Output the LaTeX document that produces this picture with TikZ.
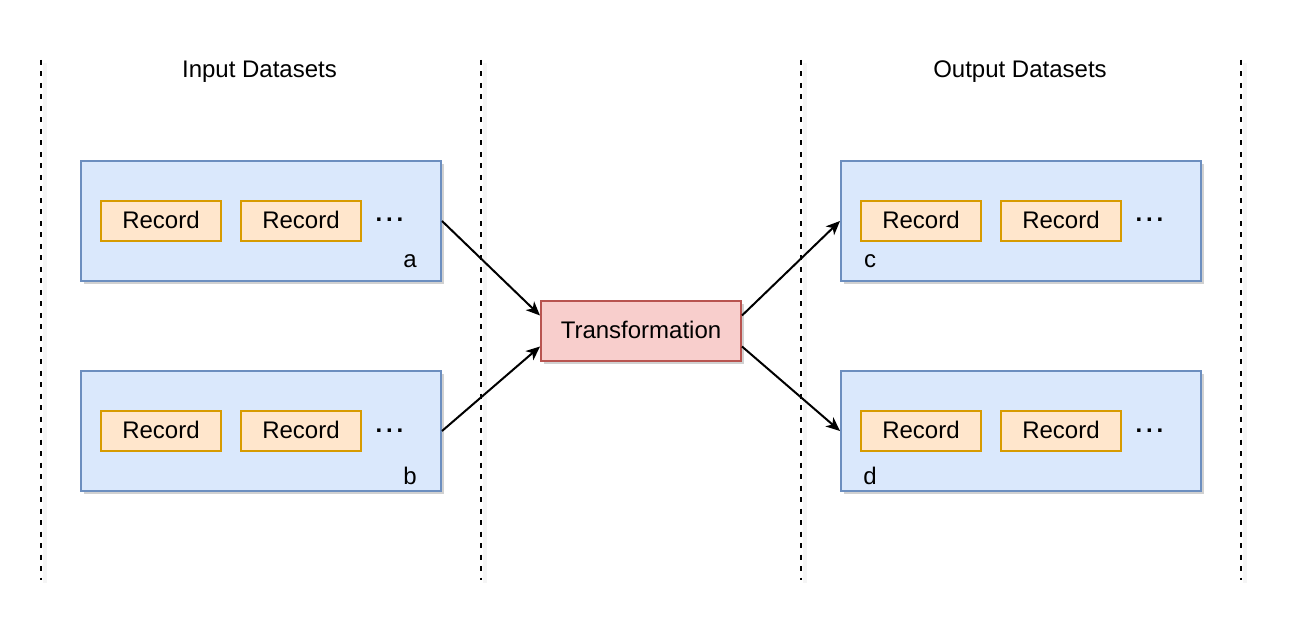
\documentclass[tikz,border=0pt]{standalone}
\usepackage{fontspec}
\setmainfont{Liberation Sans}
\usetikzlibrary{arrows.meta,shadows,calc}
\definecolor{dsfill}{HTML}{DAE8FC}
\definecolor{dsdraw}{HTML}{6C8EBF}
\definecolor{recfill}{HTML}{FFE6CC}
\definecolor{recdraw}{HTML}{D79B00}
\definecolor{trfill}{HTML}{F8CECC}
\definecolor{trdraw}{HTML}{B85450}
\tikzset{
  shad/.style={drop shadow={shadow xshift=3pt,shadow yshift=-3pt,fill=black,opacity=0.18}},
  dataset/.style={rectangle,draw=dsdraw,fill=dsfill,line width=2pt,minimum width=360pt,minimum height=120pt,inner sep=0pt,shad},
  record/.style={rectangle,draw=recdraw,fill=recfill,line width=2pt,minimum width=120pt,minimum height=40pt,inner sep=0pt,font=\fontsize{24}{28}\selectfont},
  transf/.style={rectangle,draw=trdraw,fill=trfill,line width=2pt,minimum width=200pt,minimum height=60pt,inner sep=0pt,font=\fontsize{24}{28}\selectfont,shad},
  lbl/.style={inner sep=0pt,font=\fontsize{24}{28}\selectfont},
  dots/.style={inner sep=0pt,anchor=base,font=\fontsize{24}{28}\selectfont\bfseries},
  sep/.style={line width=2.2pt,dash pattern=on 5pt off 6.5pt},
  sepshadow/.style={line width=4pt,black,opacity=0.04},
  conn/.style={line width=2pt,-{Stealth[length=14pt,width=12pt,inset=4pt]}}
}
\newcommand{\rtext}[1]{\raisebox{2.5pt}{#1}}
\begin{document}
\begin{tikzpicture}[x=1pt,y=-1pt]
\useasboundingbox (0,0) rectangle (1296,636);
% separators
\foreach \n/\x in {s1/41,s2/481,s3/801,s4/1241}{
  \coordinate (\n top) at (\x,60);
  \coordinate (\n bot) at (\x,580);
  \draw[sepshadow] ($(\n top)+(4,3)$) -- ($(\n bot)+(4,3)$);
  \draw[sep] (\n top) -- (\n bot);
}
% titles
\node[lbl,anchor=base] (tin) at (259.5,78) {Input Datasets};
\node[lbl,anchor=base] (tout) at (1020,78) {Output Datasets};
% datasets
\node[dataset] (a) at (261,221) {};
\node[dataset] (b) at (261,431) {};
\node[dataset] (c) at (1021,221) {};
\node[dataset] (d) at (1021,431) {};
% records
\node[record] (a1) at (161,221) {\rtext{Record}};
\node[record] (a2) at (301,221) {\rtext{Record}};
\node[dots] (adots) at (389.5,222) {.\hspace{3.8pt}.\hspace{3.8pt}.};
\node[lbl,anchor=base] (alab) at (410,268) {a};
\node[record] (b1) at (161,431) {\rtext{Record}};
\node[record] (b2) at (301,431) {\rtext{Record}};
\node[dots] (bdots) at (389.5,432) {.\hspace{3.8pt}.\hspace{3.8pt}.};
\node[lbl,anchor=base] (blab) at (410,484) {b};
\node[record] (c1) at (921,221) {\rtext{Record}};
\node[record] (c2) at (1061,221) {\rtext{Record}};
\node[dots] (cdots) at (1149.5,222) {.\hspace{3.8pt}.\hspace{3.8pt}.};
\node[lbl,anchor=base] (clab) at (870,268) {c};
\node[record] (d1) at (921,431) {\rtext{Record}};
\node[record] (d2) at (1061,431) {\rtext{Record}};
\node[dots] (ddots) at (1149.5,432) {.\hspace{3.8pt}.\hspace{3.8pt}.};
\node[lbl,anchor=base] (dlab) at (870,484) {d};
% transformation
\node[transf] (t) at (641,331) {\raisebox{2pt}{Transformation}};
% connectors
\draw[conn] (a.east) -- ($(t.north west)!0.25!(t.south west)$);
\draw[conn] (b.east) -- ($(t.north west)!0.75!(t.south west)$);
\draw[conn] ($(t.north east)!0.25!(t.south east)$) -- (c.west);
\draw[conn] ($(t.north east)!0.75!(t.south east)$) -- (d.west);
\end{tikzpicture}
\end{document}
